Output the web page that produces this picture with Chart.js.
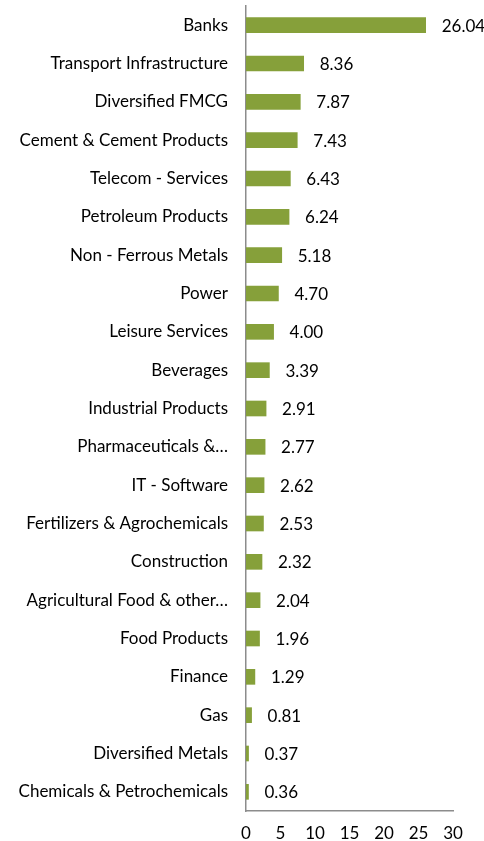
<!DOCTYPE html>
<html>
<head>
<meta charset="utf-8">
<script src="https://cdn.jsdelivr.net/npm/chart.js@4"></script>
<style>
  html, body { margin: 0; padding: 0; background: #fff; }
  #wrap { width: 484px; height: 841px; }
</style>
</head>
<body>
<div id="wrap"><canvas id="myChart" width="484" height="841"></canvas></div>
<script>
const categories = [
  "Banks", "Transport Infrastructure", "Diversified FMCG", "Cement & Cement Products",
  "Telecom - Services", "Petroleum Products", "Non - Ferrous Metals", "Power",
  "Leisure Services", "Beverages", "Industrial Products", "Pharmaceuticals &…",
  "IT - Software", "Fertilizers & Agrochemicals", "Construction",
  "Agricultural Food & other…", "Food Products", "Finance", "Gas",
  "Diversified Metals", "Chemicals & Petrochemicals"
];
const values = [26.04, 8.36, 7.87, 7.43, 6.43, 6.24, 5.18, 4.70, 4.00, 3.39, 2.91,
  2.77, 2.62, 2.53, 2.32, 2.04, 1.96, 1.29, 0.81, 0.37, 0.36];
const xTicks = [0, 5, 10, 15, 20, 25, 30];

const fontFamily = "Lato, 'Open Sans', sans-serif";
const fontSize = 17;

// value labels to the right of each bar
const valueLabels = {
  id: "valueLabels",
  afterDatasetsDraw(chart) {
    const c = chart.ctx;
    const meta = chart.getDatasetMeta(0);
    c.save();
    c.font = fontSize + "px " + fontFamily;
    c.fillStyle = "#000";
    c.textAlign = "left";
    c.textBaseline = "middle";
    meta.data.forEach((bar, idx) => {
      c.fillText(values[idx].toFixed(2), bar.x + 16, bar.y + 1);
    });
    c.restore();
  }
};

const ctx = document.getElementById("myChart");
new Chart(ctx, {
  type: "bar",
  data: {
    labels: categories,
    datasets: [
      {
        data: values,
        backgroundColor: "#86a03a",
        barThickness: 15
      }
    ]
  },
  options: {
    indexAxis: "y",
    responsive: false,
    animation: false,
    layout: { padding: { left: 0, right: 31, top: 6, bottom: 0 } },
    plugins: {
      legend: { display: false },
      tooltip: { enabled: false }
    },
    scales: {
      x: {
        min: 0,
        max: 30,
        afterBuildTicks: (s) => { s.ticks = xTicks.map(v => ({ value: v })); },
        afterFit: (s) => { s.height = 30; },
        grid: { display: false, drawTicks: false },
        border: { color: "#8c8c8c", width: 1.5 },
        ticks: {
          padding: 12,
          color: "#000",
          font: { family: fontFamily, size: fontSize }
        }
      },
      y: {
        afterFit: (s) => {
          s.width = 246;
          s.paddingTop = 0;
          s.paddingBottom = 0;
        },
        grid: { display: false, drawTicks: false },
        border: { color: "#8c8c8c", width: 1.5 },
        ticks: {
          padding: 18,
          autoSkip: false,
          color: "#000",
          font: { family: fontFamily, size: fontSize }
        }
      }
    }
  },
  plugins: [valueLabels]
});
</script>
</body>
</html>
